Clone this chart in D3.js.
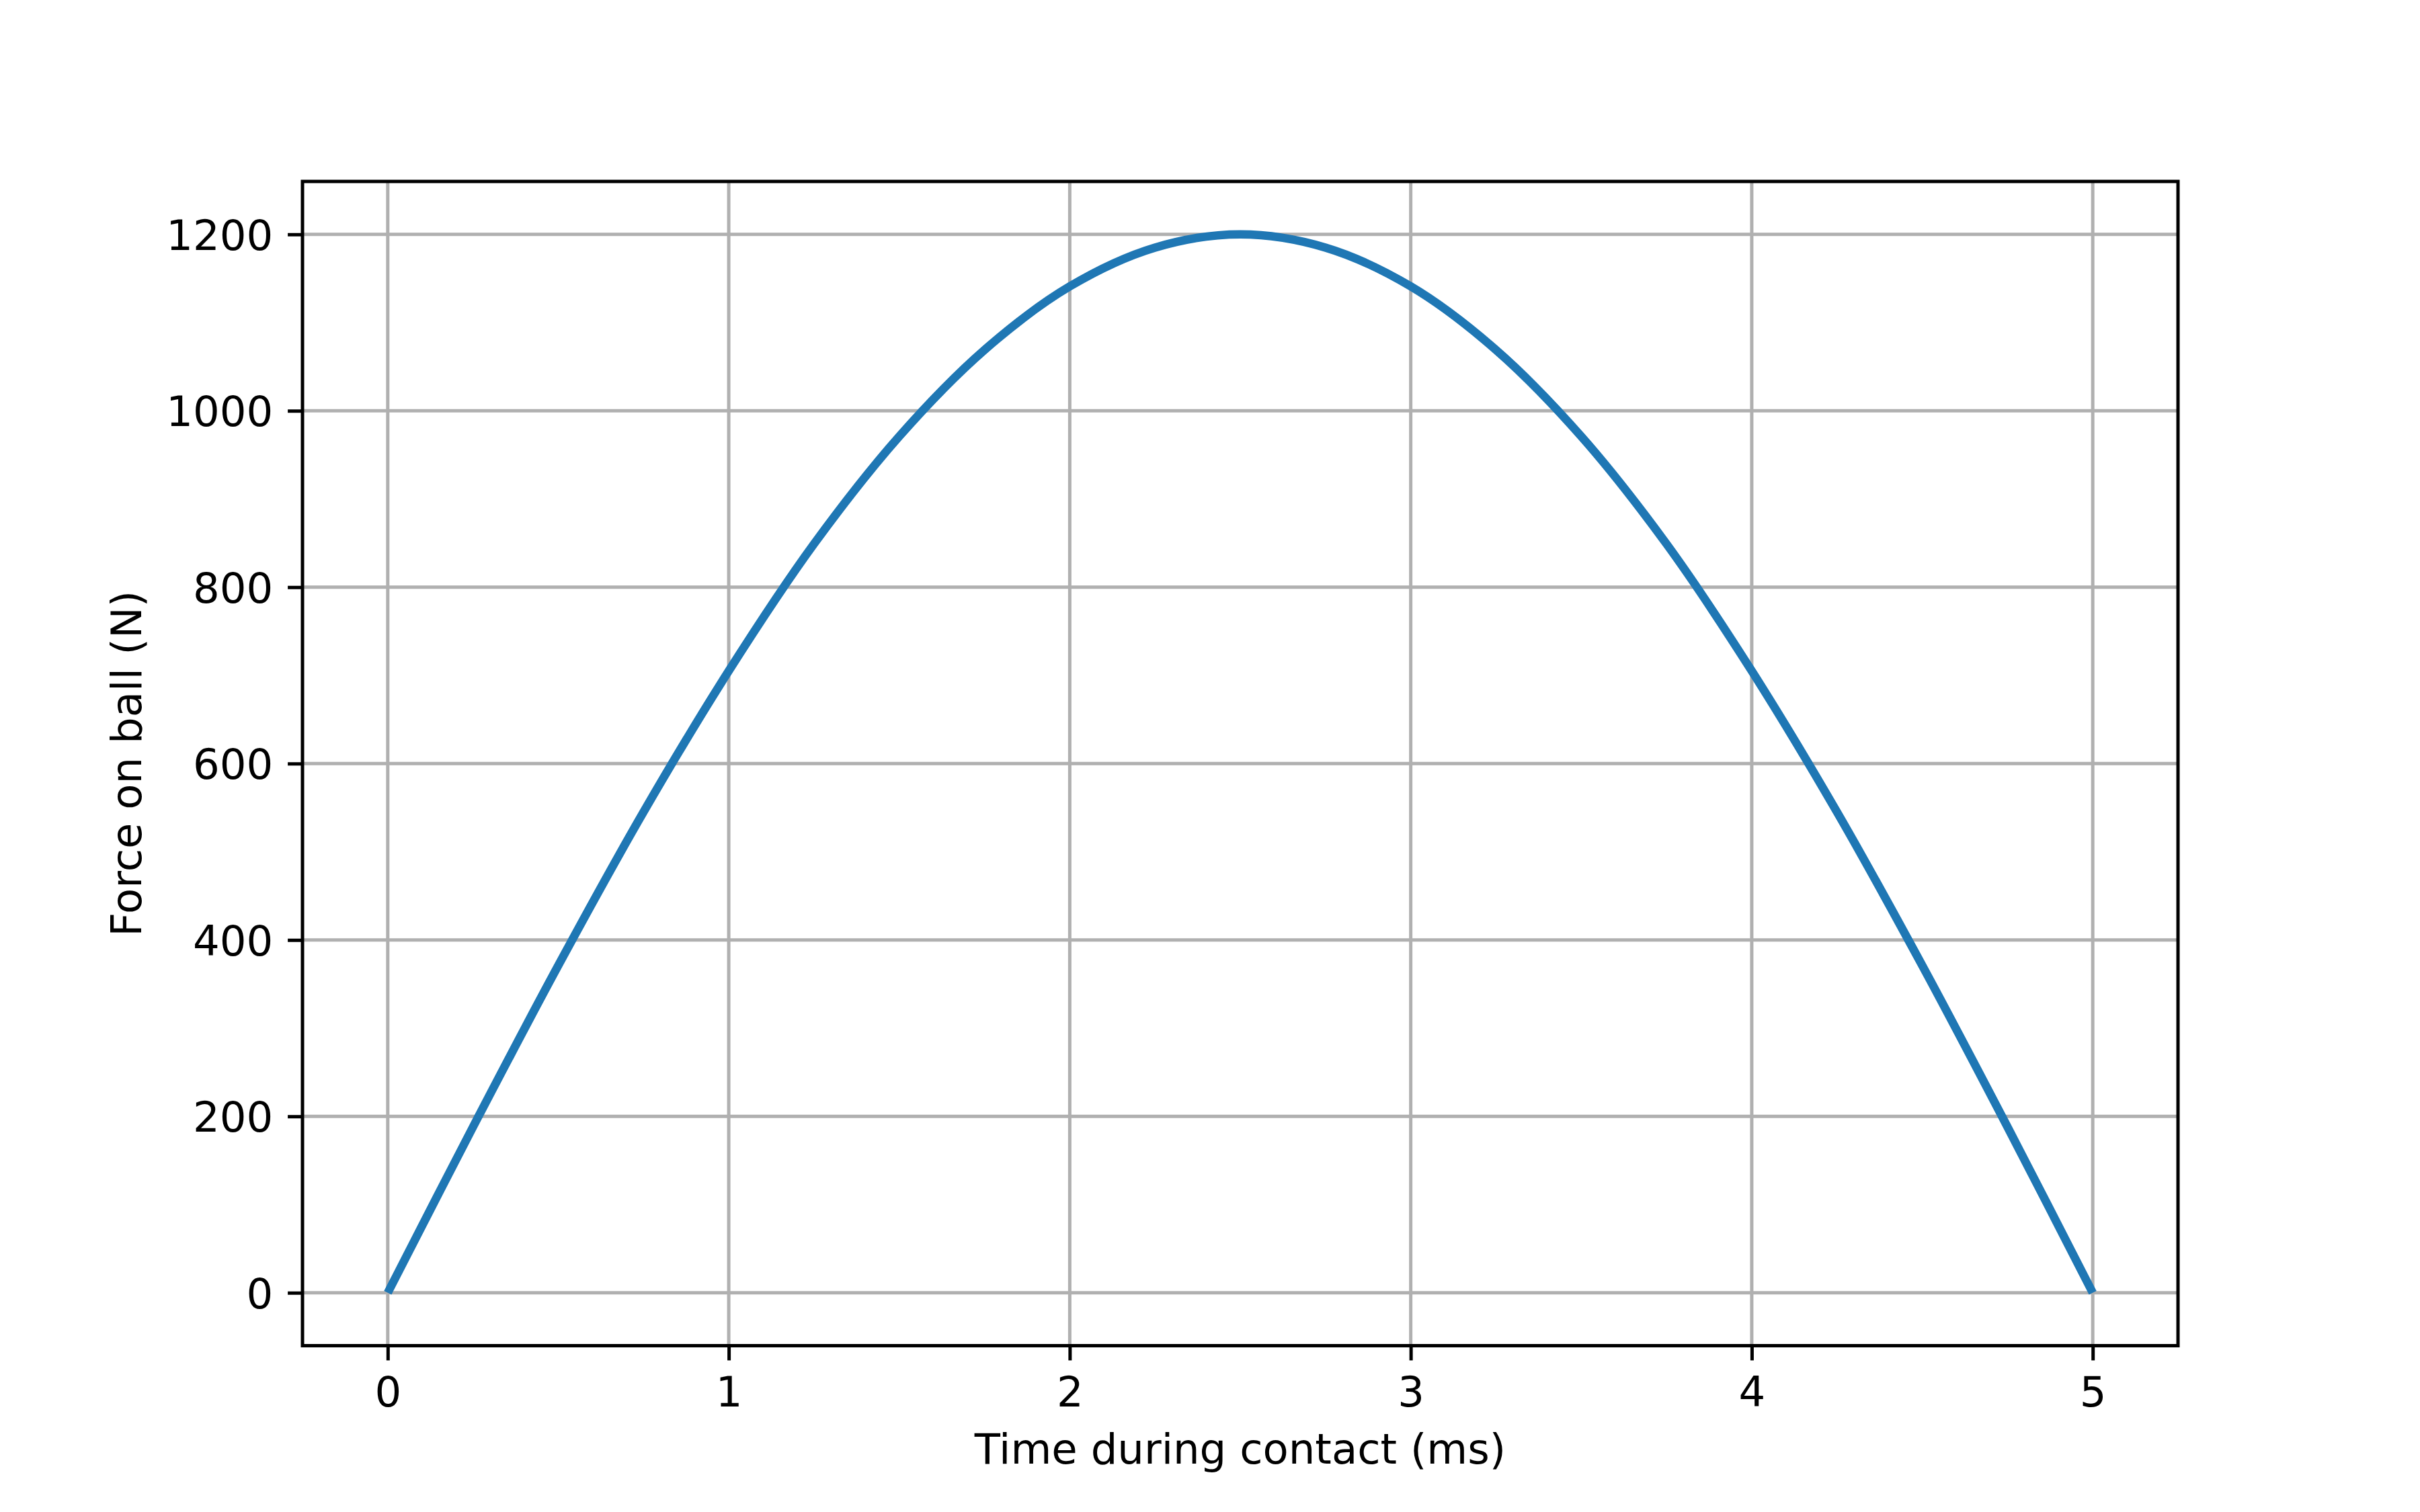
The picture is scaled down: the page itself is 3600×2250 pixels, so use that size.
<!DOCTYPE html>
<html>
<head>
<meta charset="utf-8">
<script src="https://cdn.jsdelivr.net/npm/d3@7"></script>
<style>
  body { margin: 0; background: #fff; }
  text { font-family: "DejaVu Sans", sans-serif; fill: #000; }
</style>
</head>
<body>
<svg class="svg" width="3600" height="2250"></svg>
<script>
// values, every 0.25 ms
const times = [0, 0.25, 0.5, 0.75, 1, 1.25, 1.5, 1.75, 2, 2.25, 2.5,
  2.75, 3, 3.25, 3.5, 3.75, 4, 4.25, 4.5, 4.75, 5];
const forces = [0, 188, 371, 545, 705, 849, 971, 1069, 1141, 1185, 1200,
  1185, 1141, 1069, 971, 849, 705, 545, 371, 188, 0];
const xTicks = [0, 1, 2, 3, 4, 5];
const yTicks = [0, 200, 400, 600, 800, 1000, 1200];
const xTitle = 'Time during contact (ms)';
const yTitle = 'Force on ball (N)';

const axLeft = 450, axRight = 3240, axTop = 270, axBottom = 2002.5;
const fs = 62.5;

const svg = d3.select('.svg');
const x = d3.scaleLinear().domain([-0.25, 5.25]).range([axLeft, axRight]);
const y = d3.scaleLinear().domain([-60, 1260]).range([axBottom, axTop]);

// grid
const grid = svg.append('g');
grid.selectAll('.gx').data(xTicks).enter().append('line')
  .attr('x1', d => x(d)).attr('x2', d => x(d))
  .attr('y1', axTop).attr('y2', axBottom)
  .style('stroke', '#b0b0b0').style('stroke-width', 5);
grid.selectAll('.gy').data(yTicks).enter().append('line')
  .attr('x1', axLeft).attr('x2', axRight)
  .attr('y1', d => y(d)).attr('y2', d => y(d))
  .style('stroke', '#b0b0b0').style('stroke-width', 5);

// curve
const line = d3.line()
  .x((d, i) => x(times[i]))
  .y(d => y(d))
  .curve(d3.curveCatmullRom);
svg.append('path')
  .attr('d', line(forces))
  .style('fill', 'none')
  .style('stroke', '#1f77b4')
  .style('stroke-width', 12.5)
  .style('stroke-linecap', 'butt');

// axes
const xAxis = d3.axisBottom(x).tickValues(xTicks).tickSize(21.9).tickPadding(21.9)
  .tickFormat(d3.format('d'));
const gx = svg.append('g').attr('transform', `translate(0,${axBottom})`).call(xAxis);
gx.select('.domain').remove();
gx.selectAll('line').style('stroke', '#000').style('stroke-width', 5);
gx.selectAll('text').style('font-size', fs + 'px').attr('dy', null).attr('y', 90.5);

const yAxis = d3.axisLeft(y).tickValues(yTicks).tickSize(21.9).tickPadding(21.9)
  .tickFormat(d3.format('d'));
const gy = svg.append('g').attr('transform', `translate(${axLeft},0)`).call(yAxis);
gy.select('.domain').remove();
gy.selectAll('line').style('stroke', '#000').style('stroke-width', 5);
gy.selectAll('text').style('font-size', fs + 'px').attr('dy', '0.36em');

// frame
svg.append('rect')
  .attr('x', axLeft).attr('y', axTop)
  .attr('width', axRight - axLeft).attr('height', axBottom - axTop)
  .style('fill', 'none').style('stroke', '#000').style('stroke-width', 5);

// titles
svg.append('text')
  .attr('x', (axLeft + axRight) / 2).attr('y', 2178)
  .attr('text-anchor', 'middle')
  .style('font-size', fs + 'px')
  .text(xTitle);
svg.append('text')
  .attr('transform', `translate(210,${(axTop + axBottom) / 2}) rotate(-90)`)
  .attr('text-anchor', 'middle')
  .style('font-size', fs + 'px')
  .text(yTitle);
</script>
</body>
</html>
